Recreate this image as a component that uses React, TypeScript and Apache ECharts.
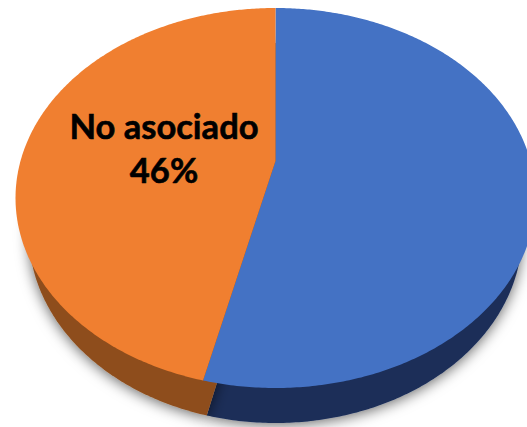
import React, { useEffect, useRef } from "react";
import * as echarts from "echarts";

const categories = ["Asociado", "No asociado"];
const values = [53.7, 46.3];
const topColors = ["#4472C4", "#F07F30"];
const wallColors = ["#1B2E59", "#8E4E1C"];
const labelCategory = 1;

const TILT = 0.1947;
const TOP = { cx: 275.5, apexY: 161, rx: 255, ry: 182.8 };
const BOTTOM = { cx: 275.5, apexY: 196, rx: 242, ry: 182.8 };

type Disc = typeof TOP;

function project(d: Disc, angle: number): number[] {
  const u = Math.sin(angle);
  const v = -Math.cos(angle);
  const w = 1 - TILT * v;
  return [d.cx + (d.rx * u) / w, d.apexY + (d.ry * v) / w];
}

function sector(d: Disc, from: number, to: number): number[][] {
  const pts: number[][] = [[d.cx, d.apexY]];
  const steps = Math.max(2, Math.ceil((to - from) / 0.01));
  for (let i = 0; i <= steps; i++) {
    pts.push(project(d, from + ((to - from) * i) / steps));
  }
  return pts;
}

function range(index: number): number[] {
  const total = values.reduce((a, b) => a + b, 0);
  const before = values.slice(0, index).reduce((a, b) => a + b, 0);
  return [
    (before / total) * Math.PI * 2,
    ((before + values[index]) / total) * Math.PI * 2,
  ];
}

const seriesData = categories.map((name, i) => ({ name, value: values[i] }));

export default function App() {
  const ref = useRef<HTMLDivElement>(null);
  useEffect(() => {
    const chart = echarts.init(ref.current!, null, { renderer: "svg" });
    chart.setOption({
      animation: false,
      series: [
        {
          type: "custom",
          coordinateSystem: "none",
          silent: true,
          z: 1,
          data: seriesData,
          renderItem: (params: any) => {
            const [a, b] = range(params.dataIndex);
            return {
              type: "polygon",
              shape: { points: sector(BOTTOM, a, b) },
              style: {
                fill: wallColors[params.dataIndex],
                shadowBlur: 14,
                shadowColor: "rgba(0,0,0,0.6)",
                shadowOffsetX: 0,
                shadowOffsetY: 2,
              },
            };
          },
        },
        {
          type: "custom",
          coordinateSystem: "none",
          silent: true,
          z: 2,
          data: seriesData,
          renderItem: (params: any) => {
            const [a, b] = range(params.dataIndex);
            const children: any[] = [
              {
                type: "polygon",
                shape: { points: sector(TOP, a, b) },
                style: { fill: topColors[params.dataIndex] },
              },
            ];
            if (params.dataIndex === labelCategory) {
              children.push({
                type: "text",
                x: 164,
                y: 147,
                style: {
                  text: `${categories[labelCategory]}\n${Math.round(values[labelCategory])}%`,
                  fill: "#000000",
                  stroke: "#000000",
                  lineWidth: 0.6,
                  font: "bold 34.5px Lato",
                  lineHeight: 44,
                  align: "center",
                  verticalAlign: "middle",
                },
              });
            }
            return { type: "group", children };
          },
        },
      ],
    });
    return () => chart.dispose();
  }, []);
  return (
    <div
      ref={ref}
      style={{ position: "absolute", left: 0, top: 0, width: 527, height: 427 }}
    />
  );
}
